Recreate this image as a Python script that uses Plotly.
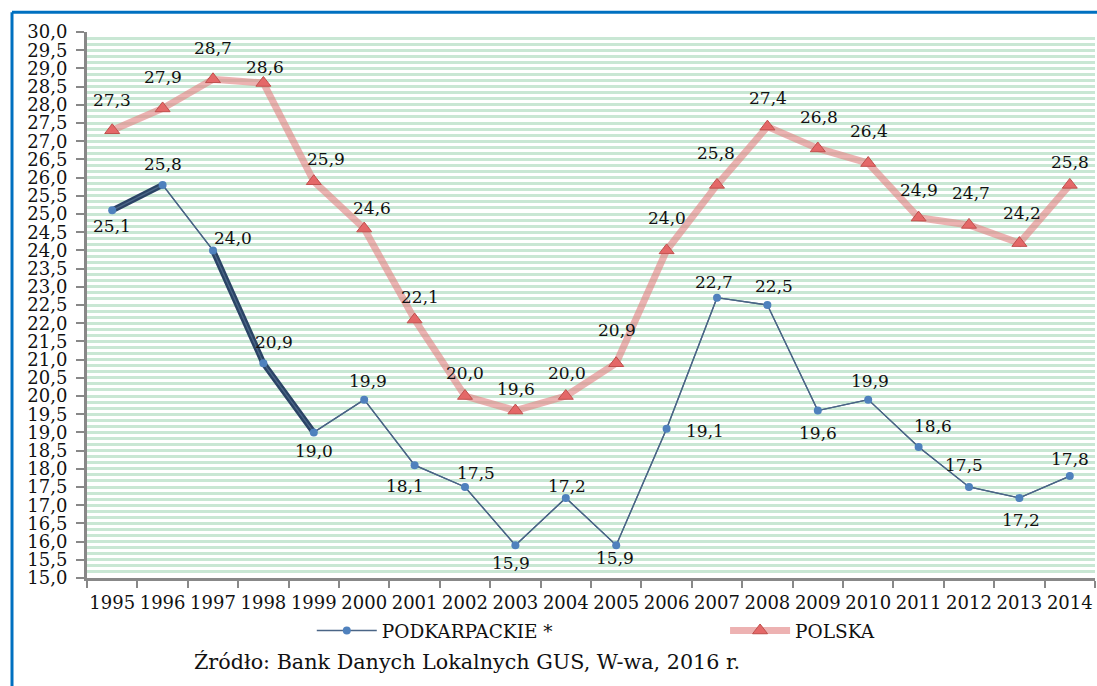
import plotly.graph_objects as go

years = [str(y) for y in range(1995, 2015)]
podkarpackie = [25.1, 25.8, 24.0, 20.9, 19.0, 19.9, 18.1, 17.5, 15.9, 17.2,
                15.9, 19.1, 22.7, 22.5, 19.6, 19.9, 18.6, 17.5, 17.2, 17.8]
polska = [27.3, 27.9, 28.7, 28.6, 25.9, 24.6, 22.1, 20.0, 19.6, 20.0,
          20.9, 24.0, 25.8, 27.4, 26.8, 26.4, 24.9, 24.7, 24.2, 25.8]
pod_name = "PODKARPACKIE *"
pol_name = "POLSKA"
source_text = "Źródło: Bank Danych Lokalnych GUS, W-wa, 2016 r."

# label offsets in px (styling only)
pod_dx = [0, 0, 20, 11, 0, 4, -10, 11, -4, 1, -1, 38, -3, 7, 0, 2, 14, -5, 2, 0]
pod_dy = [-16, 21, 12, 21, -19, 19, -21, 14, -18, 12, -13, -2, 16, 19, -22, 19, 21, 22, -22, 17]
pol_dx = [0, 0, 0, 2, 12, 8, 5, 0, 1, 1, 1, 0, -1, 1, 1, 1, 0, 2, 3, 0]
pol_dy = [30, 31, 31, 16, 22, 21, 23, 23, 22, 23, 33, 32, 32, 29, 31, 32, 28, 32, 30, 23]

def fmt(v):
    return f"{v:.1f}".replace(".", ",")

FONT = "DejaVu Serif"

fig = go.Figure()

fig.add_trace(go.Scatter(
    x=years, y=polska, mode="lines+markers", name=pol_name,
    line=dict(color="rgba(226,130,130,0.62)", width=7),
    marker=dict(symbol="triangle-up", size=13, color="#e46868",
                line=dict(color="#c0504d", width=1)),
    legend="legend2",
))

fig.add_trace(go.Scatter(
    x=years, y=podkarpackie, mode="lines", showlegend=False,
    line=dict(color="#4a6586", width=1.3), hoverinfo="skip",
))
fig.add_trace(go.Scatter(
    x=years[0:2], y=podkarpackie[0:2], mode="lines", showlegend=False,
    line=dict(color="#2b4466", width=6), hoverinfo="skip",
))
fig.add_trace(go.Scatter(
    x=years[2:5], y=podkarpackie[2:5], mode="lines", showlegend=False,
    line=dict(color="#2b4466", width=6), hoverinfo="skip",
))
fig.add_trace(go.Scatter(
    x=years, y=podkarpackie, mode="lines+markers", name=pod_name,
    line=dict(color="#4a6586", width=1.3),
    marker=dict(symbol="circle", size=8, color="#4f81bd"),
    legend="legend",
))

annotations = []
for i, yr in enumerate(years):
    annotations.append(dict(x=i, y=podkarpackie[i], text=fmt(podkarpackie[i]),
                            xref="x", yref="y",
                            showarrow=False, xshift=pod_dx[i], yshift=pod_dy[i],
                            font=dict(family=FONT, size=17, color="#111")))
    annotations.append(dict(x=i, y=polska[i], text=fmt(polska[i]),
                            xref="x", yref="y",
                            showarrow=False, xshift=pol_dx[i], yshift=pol_dy[i],
                            font=dict(family=FONT, size=17, color="#111")))

annotations.append(dict(xref="paper", yref="paper", x=0.104, y=-0.154,
                        xanchor="left", yanchor="middle", showarrow=False,
                        text=source_text,
                        font=dict(family=FONT, size=20.7, color="#111")))

grid_col = "#c9e7d4"

fig.update_layout(
    width=1097, height=686,
    margin=dict(l=87, r=2, t=32, b=108),
    paper_bgcolor="white", plot_bgcolor="white",
    separators=",.",
    font=dict(family=FONT, size=18, color="#111"),
    annotations=annotations,
    legend=dict(orientation="h", x=0.223, y=-0.097, xanchor="left", yanchor="middle",
                itemwidth=60, font=dict(family=FONT, size=18.5, color="#111"),
                bgcolor="rgba(0,0,0,0)"),
    legend2=dict(orientation="h", x=0.633, y=-0.097, xanchor="left", yanchor="middle",
                 itemwidth=60, font=dict(family=FONT, size=18.5, color="#111"),
                 bgcolor="rgba(0,0,0,0)"),
    shapes=[
        dict(type="line", xref="paper", yref="paper", x0=-0.0744, x1=1.01,
             y0=1.036, y1=1.036, line=dict(color="#0070c0", width=3)),
        dict(type="line", xref="paper", yref="paper", x0=-0.0744, x1=-0.0744,
             y0=1.036, y1=-0.25, line=dict(color="#0070c0", width=3)),
    ],
)

fig.update_xaxes(
    type="category", range=[-0.5, 19.5], tickson="boundaries",
    ticks="outside", ticklen=7, tickwidth=2, tickcolor="#888",
    showline=True, linecolor="#888", linewidth=3,
    showgrid=False, zeroline=False, tickangle=0,
    tickfont=dict(family=FONT, size=18, color="#111"),
    ticklabelstandoff=6,
)
fig.update_yaxes(
    range=[15, 30], dtick=0.5, tick0=15, tickformat=".1f",
    ticks="outside", ticklen=8, tickwidth=2, tickcolor="#888",
    showline=True, linecolor="#888", linewidth=3,
    showgrid=True, gridcolor=grid_col, gridwidth=3,
    minor=dict(dtick=0.5 / 3, tick0=15, showgrid=True, gridcolor=grid_col, gridwidth=3),
    zeroline=False, ticklabelstandoff=5,
    tickfont=dict(family=FONT, size=18, color="#111"),
)

fig.write_html("out.html", config={"displayModeBar": False},
               post_script="document.body.style.margin='0';")
